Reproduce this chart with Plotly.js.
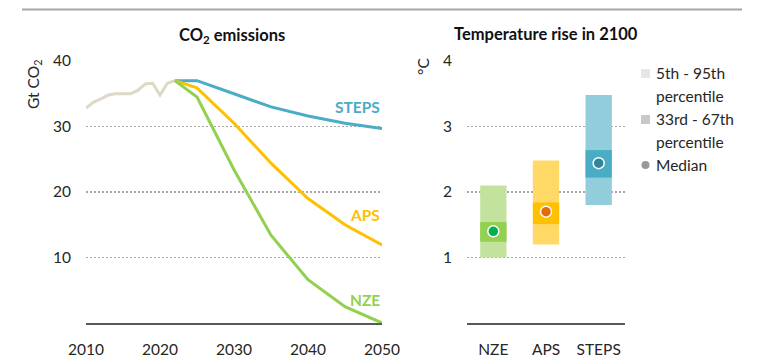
<!DOCTYPE html>
<html><head><meta charset="utf-8">
<script src="https://cdn.plot.ly/plotly-3.0.1.min.js"></script>
<style>html,body{margin:0;padding:0;background:#fff}#chart{width:768px;height:362px}</style>
</head><body><div id="chart"></div>
<script>
// ---- Data ----
const histYears = [2010,2011,2012,2013,2014,2015,2016,2017,2018,2019,2020,2021,2022];
const histValues = [32.8,33.7,34.2,34.8,35.0,35.0,35.0,35.5,36.5,36.6,34.8,36.6,37.0];
const scenYears = [2022,2025,2030,2035,2040,2045,2050];
const stepsValues = [37.0,37.0,35.0,33.0,31.6,30.5,29.7];
const apsValues = [37.0,35.9,30.5,24.4,19.0,15.0,11.9];
const nzeValues = [37.0,34.5,23.4,13.4,6.6,2.5,0.0];
const xTicks = [2010,2020,2030,2040,2050];
const yTicks = [10,20,30,40];

const tempScenarios = ['NZE','APS','STEPS'];
const p5 = [1.0,1.2,1.8];
const p95 = [2.1,2.48,3.48];
const p33 = [1.24,1.51,2.22];
const p67 = [1.54,1.84,2.64];
const medians = [1.4,1.7,2.44];
const tempTicks = [1,2,3,4];

const lightColors = ['#c3e29e','#ffd966','#92cddc'];
const darkColors = ['#92d050','#ffc000','#4bacc6'];
const medianColors = ['#00b050','#e36c09','#31849b'];

const FONT = 'Lato, "Liberation Sans", sans-serif';
const W = 768, H = 362;
const px = v => v / W;
const py = v => (H - v) / H;

const traces = [
  {x: histYears, y: histValues, type:'scatter', mode:'lines', line:{color:'#ddd9c4', width:3}, cliponaxis:false, xaxis:'x', yaxis:'y', hoverinfo:'skip'},
  {x: scenYears, y: stepsValues, type:'scatter', mode:'lines', line:{color:'#4bacc6', width:3}, cliponaxis:false, xaxis:'x', yaxis:'y'},
  {x: scenYears, y: apsValues, type:'scatter', mode:'lines', line:{color:'#ffc000', width:3}, cliponaxis:false, xaxis:'x', yaxis:'y'},
  {x: scenYears, y: nzeValues, type:'scatter', mode:'lines', line:{color:'#92d050', width:3}, cliponaxis:false, xaxis:'x', yaxis:'y'},
  {x: tempScenarios, y: p95.map((v,i)=>v-p5[i]), base: p5, type:'bar', width:0.5, marker:{color: lightColors, line:{width:0}}, xaxis:'x2', yaxis:'y2'},
  {x: tempScenarios, y: p67.map((v,i)=>v-p33[i]), base: p33, type:'bar', width:0.5, marker:{color: darkColors, line:{width:0}}, xaxis:'x2', yaxis:'y2'},
  {x: tempScenarios, y: medians, type:'scatter', mode:'markers', marker:{color: medianColors, size:11, line:{color:'#ffffff', width:1.5}}, xaxis:'x2', yaxis:'y2'}
];

const axisFont = {family: FONT, size: 15.5, color: '#262626'};
const legFont = {family: FONT, size: 15.5, color: '#262626'};
const layout = {
  width: W, height: H,
  margin: {l:0, r:0, t:0, b:0},
  paper_bgcolor: '#ffffff', plot_bgcolor: 'rgba(0,0,0,0)',
  showlegend: false,
  barmode: 'overlay',
  font: {family: FONT, color: '#262626'},
  xaxis: {domain:[px(86), px(382)], range:[2010,2050], tickvals: xTicks, showgrid:false, zeroline:false,
          showline:true, linecolor:'#595959', linewidth:1.5, ticks:'', tickfont: axisFont, ticklabelstandoff: 12, fixedrange:true},
  yaxis: {domain:[py(323), py(61)], range:[0,40], tickvals: yTicks, showgrid:true, gridcolor:'#a6a6a6', griddash:'2px,2px', gridwidth:1.5,
          zeroline:false, showline:false, ticks:'', tickfont: axisFont, ticklabelstandoff: 14, fixedrange:true},
  xaxis2: {domain:[px(467), px(625)], anchor:'y2', type:'category', range:[-0.5,2.5], showgrid:false, zeroline:false,
          showline:true, linecolor:'#595959', linewidth:1.5, ticks:'', tickfont: axisFont, ticklabelstandoff: 12, fixedrange:true},
  yaxis2: {domain:[py(323), py(61)], anchor:'x2', range:[0,4], tickvals: tempTicks, showgrid:true, gridcolor:'#a6a6a6', griddash:'2px,2px', gridwidth:1.5,
          zeroline:false, showline:false, ticks:'', tickfont: axisFont, ticklabelstandoff: 14, fixedrange:true},
  shapes: [
    {type:'line', xref:'paper', yref:'paper', x0:px(22), x1:px(742), y0:py(9.5), y1:py(9.5), line:{color:'#a6a6a6', width:2}},
    {type:'rect', xref:'paper', yref:'paper', x0:px(641), x1:px(650), y0:py(69), y1:py(78), fillcolor:'#e6e6e6', line:{width:0}},
    {type:'rect', xref:'paper', yref:'paper', x0:px(641), x1:px(650), y0:py(115), y1:py(124), fillcolor:'#c8c8c8', line:{width:0}},
    {type:'circle', xref:'paper', yref:'paper', x0:px(641.5), x1:px(649.5), y0:py(161), y1:py(169), fillcolor:'#999999', line:{width:0}}
  ],
  annotations: [
    {xref:'paper', yref:'paper', x:px(232), y:py(35), text:'<b>CO<sub>2</sub> emissions</b>', showarrow:false, xanchor:'center', yanchor:'middle', font:{family:FONT, size:16.5, color:'#111'}},
    {xref:'paper', yref:'paper', x:px(546), y:py(34), text:'<b>Temperature rise in 2100</b>', showarrow:false, xanchor:'center', yanchor:'middle', font:{family:FONT, size:16.5, color:'#111'}},
    {xref:'paper', yref:'paper', x:px(34), y:py(85), text:'Gt CO<sub>2</sub>', textangle:-90, showarrow:false, xanchor:'center', yanchor:'middle', font:{family:FONT, size:15.5, color:'#262626'}},
    {xref:'paper', yref:'paper', x:px(423), y:py(67), text:'°C', textangle:-90, showarrow:false, xanchor:'center', yanchor:'middle', font:{family:FONT, size:15.5, color:'#262626'}},
    {xref:'x', yref:'y', x:2050, y:33, text:'<b>STEPS</b>', showarrow:false, xanchor:'right', yanchor:'middle', font:{family:FONT, size:15.5, color:'#4bacc6'}},
    {xref:'x', yref:'y', x:2050, y:16.5, text:'<b>APS</b>', showarrow:false, xanchor:'right', yanchor:'middle', font:{family:FONT, size:15.5, color:'#ffc000'}},
    {xref:'x', yref:'y', x:2050, y:3.5, text:'<b>NZE</b>', showarrow:false, xanchor:'right', yanchor:'middle', font:{family:FONT, size:15.5, color:'#92d050'}},
    {xref:'paper', yref:'paper', x:px(654), y:py(73), text:'5th - 95th', showarrow:false, xanchor:'left', yanchor:'middle', font:legFont},
    {xref:'paper', yref:'paper', x:px(654), y:py(96), text:'percentile', showarrow:false, xanchor:'left', yanchor:'middle', font:legFont},
    {xref:'paper', yref:'paper', x:px(654), y:py(119), text:'33rd - 67th', showarrow:false, xanchor:'left', yanchor:'middle', font:legFont},
    {xref:'paper', yref:'paper', x:px(654), y:py(142), text:'percentile', showarrow:false, xanchor:'left', yanchor:'middle', font:legFont},
    {xref:'paper', yref:'paper', x:px(654), y:py(165), text:'Median', showarrow:false, xanchor:'left', yanchor:'middle', font:legFont}
  ]
};

Plotly.newPlot('chart', traces, layout, {displayModeBar:false, staticPlot:true});
</script>
</body></html>
